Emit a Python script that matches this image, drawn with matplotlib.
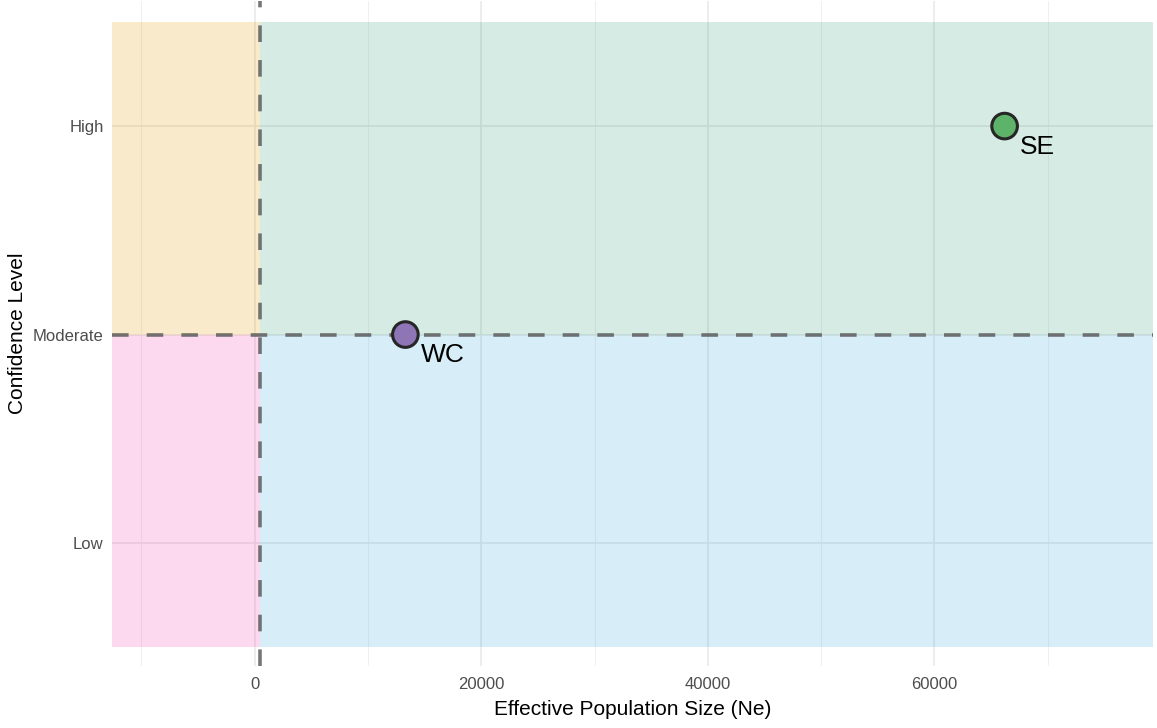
import numpy as np
import matplotlib
matplotlib.use("Agg")
import matplotlib.pyplot as plt

plt.rcParams['font.family'] = ['Liberation Sans', 'DejaVu Sans']

# data
regions = ["SE", "WC"]
ne_values = [66200, 13300]
confidence = ["High", "Moderate"]
point_colors = ["#5DB36A", "#8E76B6"]

levels = ["Low", "Moderate", "High"]
ne_threshold = 500
conf_threshold = "Moderate"

# quadrant background: (x side, y side, colour)
quadrants = [
    ("left", "top", "#E19600"),
    ("right", "top", "#329B73"),
    ("left", "bottom", "#F041AA"),
    ("right", "bottom", "#37AADC"),
]

xlim = (-12600, 79300)
ylim = (0.41, 3.6)
y_pos = {lv: i + 1 for i, lv in enumerate(levels)}

fig = plt.figure(figsize=(11.57, 7.28), dpi=100)
ax = fig.add_axes([112 / 1157, 62 / 728, 1041 / 1157, 665 / 728])

# grid (theme_minimal look)
ax.set_axisbelow(True)
major_x = [0, 20000, 40000, 60000]
minor_x = [-10000, 10000, 30000, 50000, 70000]
for xv in major_x:
    ax.axvline(xv, color="#E8E8E8", lw=1.1, zorder=0)
for xv in minor_x:
    ax.axvline(xv, color="#F0F0F0", lw=0.8, zorder=0)
for lv in levels:
    ax.axhline(y_pos[lv], color="#E8E8E8", lw=1.1, zorder=0)

yt = y_pos[conf_threshold]
for xs, ys, col in quadrants:
    x0, x1 = (xlim[0], ne_threshold) if xs == "left" else (ne_threshold, xlim[1])
    y0, y1 = (yt, 3.5) if ys == "top" else (0.5, yt)
    ax.fill_between([x0, x1], y0, y1, color=col, alpha=0.2, lw=0, zorder=1)

ax.axvline(ne_threshold, color="#555555", alpha=0.8, lw=2.6,
           linestyle=(0, (4.6, 5)), zorder=2)
ax.axhline(yt, color="#555555", alpha=0.8, lw=2.6,
           linestyle=(0, (4.6, 5)), zorder=2)

ys = [y_pos[c] for c in confidence]
ax.scatter(ne_values, ys, s=340, c=point_colors, edgecolors="#262626",
           linewidths=2.2, zorder=4)
for name, xv, yv in zip(regions, ne_values, ys):
    ax.annotate(name, (xv, yv), xytext=(11, -20), textcoords="offset points",
                ha="left", va="baseline", fontsize=19, color="black", zorder=5)

ax.set_xlim(*xlim)
ax.set_ylim(*ylim)
ax.set_xticks(major_x)
ax.set_xticklabels([str(v) for v in major_x])
ax.set_yticks([y_pos[lv] for lv in levels])
ax.set_yticklabels(levels)
ax.tick_params(length=0, labelsize=12, labelcolor="#4D4D4D")
ax.tick_params(axis="x", pad=8)
ax.tick_params(axis="y", pad=6)
for s in ax.spines.values():
    s.set_visible(False)

ax.set_xlabel("Effective Population Size (Ne)", fontsize=15, labelpad=6)
ax.set_ylabel("Confidence Level", fontsize=15, labelpad=4)

fig.savefig("out.png", dpi=100)
